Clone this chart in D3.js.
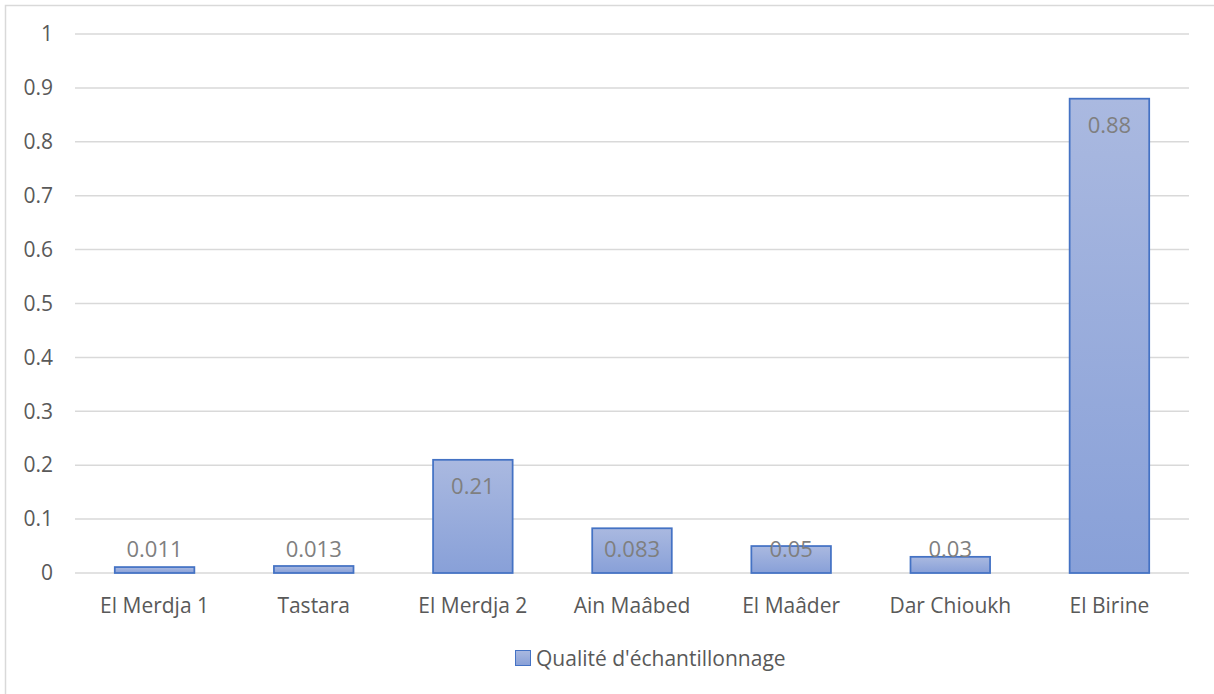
<!DOCTYPE html>
<html>
<head>
<meta charset="utf-8">
<script src="https://cdn.jsdelivr.net/npm/d3@7"></script>
<style>
  body { margin: 0; background: #fff; }
  text { font-family: "Open Sans", "Liberation Sans", sans-serif; }
</style>
</head>
<body>
<div id="chart"></div>
<script>
const sites = ["El Merdja 1", "Tastara", "El Merdja 2", "Ain Maâbed", "El Maâder", "Dar Chioukh", "El Birine"];
const values = [0.011, 0.013, 0.21, 0.083, 0.05, 0.03, 0.88];
const valueLabels = ["0.011", "0.013", "0.21", "0.083", "0.05", "0.03", "0.88"];
const yTicks = [0, 0.1, 0.2, 0.3, 0.4, 0.5, 0.6, 0.7, 0.8, 0.9, 1];
const seriesName = "Qualité d'échantillonnage";

const W = 1214, H = 694;
const margin = { top: 34, right: 25, bottom: 121, left: 75 },
    width = W - margin.left - margin.right,
    height = H - margin.top - margin.bottom;

const root = d3.select("#chart").append("svg")
    .attr("width", W)
    .attr("height", H);

// outer chart border
root.append("rect")
    .attr("x", 5.5).attr("y", 5.5)
    .attr("width", W + 20).attr("height", H + 20)
    .attr("fill", "none")
    .attr("stroke", "#d9d9d9")
    .attr("stroke-width", 1.5);

const defs = root.append("defs");
const grad = defs.append("linearGradient")
    .attr("id", "barGrad")
    .attr("x1", 0).attr("y1", 0).attr("x2", 0).attr("y2", 1);
grad.append("stop").attr("offset", "0%").attr("stop-color", "#aab9e0");
grad.append("stop").attr("offset", "100%").attr("stop-color", "#88a0d8");

const svg = root.append("g")
    .attr("transform", `translate(${margin.left}, ${margin.top})`);

const x = d3.scaleBand()
    .domain(sites)
    .range([0, width])
    .paddingInner(0.5)
    .paddingOuter(0.25);

const y = d3.scaleLinear()
    .domain([0, 1])
    .range([height, 0]);

// gridlines
svg.append("g")
    .selectAll("line")
    .data(yTicks)
    .join("line")
    .attr("x1", 0).attr("x2", width)
    .attr("y1", d => y(d)).attr("y2", d => y(d))
    .attr("stroke", "#d9d9d9")
    .attr("stroke-width", 1.5);

// y axis labels
svg.append("g")
    .call(d3.axisLeft(y).tickValues(yTicks).tickFormat(d3.format("~g")).tickSize(0).tickPadding(22))
    .call(g => g.select(".domain").remove())
    .selectAll("text")
    .attr("fill", "#595959")
    .style("font-size", "21px")
    .style("text-anchor", "end");

// x axis labels
svg.append("g")
    .attr("transform", `translate(0, ${height})`)
    .call(d3.axisBottom(x).tickSize(0).tickPadding(25))
    .call(g => g.select(".domain").remove())
    .selectAll("text")
    .attr("fill", "#595959")
    .style("font-size", "21px");

// bars
svg.selectAll(".bar")
    .data(values)
    .join("rect")
    .attr("class", "bar")
    .attr("x", (d, i) => x(sites[i]))
    .attr("y", d => y(d))
    .attr("width", x.bandwidth())
    .attr("height", d => height - y(d))
    .attr("fill", "url(#barGrad)")
    .attr("stroke", "#4472c4")
    .attr("stroke-width", 1.75);

// value labels
svg.selectAll(".vlabel")
    .data(values)
    .join("text")
    .attr("class", "vlabel")
    .attr("x", (d, i) => x(sites[i]) + x.bandwidth() / 2)
    .attr("y", d => Math.min(y(d) + 34, height - 16))
    .attr("text-anchor", "middle")
    .attr("fill", "#7f7f7f")
    .style("font-size", "22px")
    .text((d, i) => valueLabels[i]);

// legend
const legend = root.append("g")
    .attr("transform", "translate(515, 650)");
legend.append("rect")
    .attr("x", 0.5).attr("y", 0.5)
    .attr("width", 15).attr("height", 15)
    .attr("fill", "url(#barGrad)")
    .attr("stroke", "#4472c4")
    .attr("stroke-width", 1);
legend.append("text")
    .attr("x", 21).attr("y", 16)
    .attr("fill", "#595959")
    .style("font-size", "21px")
    .text(seriesName);
</script>
</body>
</html>
